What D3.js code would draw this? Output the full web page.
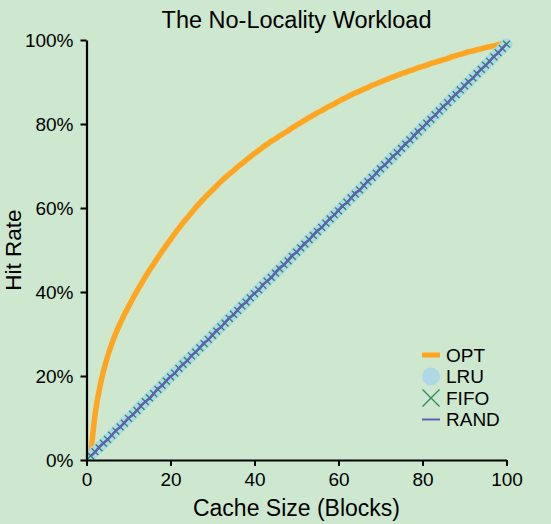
<!DOCTYPE html>
<html><head><meta charset="utf-8">
<script src="https://cdn.jsdelivr.net/npm/d3@7"></script>
<style>html,body{margin:0;padding:0;background:#cde8cf;} svg{display:block;}</style>
</head><body>
<svg id="chart" width="551" height="524"></svg>
<script>
// Hit rate (%) per cache size (blocks); cache size = index + 1
const optHit = [
  1.0, 10.5, 16.5, 21.0, 24.6, 27.6, 30.2, 32.5, 34.6, 36.5,
  38.4, 40.2, 41.9, 43.6, 45.2, 46.7, 48.2, 49.7, 51.1, 52.5,
  53.9, 55.2, 56.5, 57.7, 58.9, 60.1, 61.2, 62.3, 63.3, 64.3,
  65.3, 66.3, 67.2, 68.1, 68.9, 69.8, 70.6, 71.4, 72.2, 73.0,
  73.7, 74.5, 75.2, 75.9, 76.5, 77.2, 77.8, 78.4, 79.1, 79.7,
  80.3, 80.9, 81.5, 82.1, 82.7, 83.2, 83.8, 84.3, 84.8, 85.4,
  85.9, 86.4, 86.9, 87.4, 87.8, 88.3, 88.7, 89.2, 89.6, 90.0,
  90.4, 90.8, 91.2, 91.6, 92.0, 92.3, 92.7, 93.0, 93.4, 93.7,
  94.0, 94.4, 94.7, 95.0, 95.3, 95.6, 96.0, 96.3, 96.6, 96.9,
  97.2, 97.4, 97.7, 97.9, 98.2, 98.4, 98.6, 98.9, 99.1
];
const lruHit = [
  1.0, 2.0, 3.0, 3.9, 4.9, 5.9, 6.9, 7.9, 8.9, 9.9,
  10.8, 11.9, 12.9, 13.8, 14.9, 15.8, 16.8, 17.8, 18.8, 19.8,
  20.8, 21.8, 22.8, 23.8, 24.7, 25.8, 26.8, 27.7, 28.7, 29.7,
  30.7, 31.7, 32.7, 33.7, 34.7, 35.6, 36.6, 37.6, 38.6, 39.6,
  40.6, 41.6, 42.6, 43.5, 44.6, 45.5, 46.5, 47.5, 48.5, 49.5,
  50.5, 51.5, 52.5, 53.4, 54.5, 55.4, 56.4, 57.4, 58.4, 59.4,
  60.4, 61.4, 62.4, 63.4, 64.3, 65.3, 66.3, 67.3, 68.3, 69.3,
  70.3, 71.3, 72.2, 73.2, 74.2, 75.2, 76.2, 77.2, 78.2, 79.2,
  80.2, 81.1, 82.1, 83.1, 84.1, 85.1, 86.1, 87.1, 88.1, 89.1,
  90.0, 91.0, 92.0, 93.0, 94.0, 95.0, 96.0, 97.0, 98.0, 99.0
];
const fifoHit = [
  1.0, 2.0, 2.9, 4.0, 4.9, 5.9, 6.9, 7.9, 8.8, 9.9,
  10.9, 11.8, 12.8, 13.9, 14.8, 15.8, 16.8, 17.8, 18.8, 19.8,
  20.7, 21.8, 22.8, 23.7, 24.8, 25.7, 26.7, 27.7, 28.7, 29.7,
  30.7, 31.7, 32.6, 33.7, 34.7, 35.6, 36.7, 37.6, 38.6, 39.6,
  40.5, 41.6, 42.6, 43.5, 44.5, 45.5, 46.5, 47.4, 48.5, 49.5,
  50.5, 51.4, 52.5, 53.5, 54.4, 55.4, 56.4, 57.4, 58.4, 59.3,
  60.4, 61.4, 62.4, 63.3, 64.3, 65.4, 66.3, 67.3, 68.3, 69.3,
  70.3, 71.2, 72.3, 73.2, 74.2, 75.2, 76.2, 77.2, 78.1, 79.2,
  80.2, 81.1, 82.2, 83.1, 84.1, 85.1, 86.1, 87.0, 88.1, 89.1,
  90.0, 91.0, 92.0, 93.0, 94.0, 94.9, 96.0, 97.0, 98.0, 99.0
];
const randHit = [
  0.9, 1.8, 3.1, 4.0, 4.8, 5.9, 7.1, 7.8, 8.9, 10.0,
  10.7, 11.8, 13.0, 13.9, 14.6, 15.8, 17.0, 17.7, 18.9, 19.9,
  20.6, 21.9, 22.8, 23.6, 24.9, 25.7, 26.8, 27.9, 28.6, 29.8,
  30.9, 31.6, 32.8, 33.9, 34.5, 35.8, 36.9, 37.5, 38.8, 39.7,
  40.5, 41.8, 42.6, 43.4, 44.7, 45.8, 46.4, 47.6, 48.8, 49.4,
  50.6, 51.7, 52.4, 53.6, 54.7, 55.3, 56.5, 57.6, 58.3, 59.5,
  60.6, 61.2, 62.4, 63.6, 64.2, 65.3, 66.5, 67.2, 68.3, 69.5,
  70.2, 71.3, 72.4, 73.1, 74.3, 75.4, 76.1, 77.3, 78.4, 79.1,
  80.2, 81.3, 82.0, 83.2, 84.3, 85.0, 86.2, 87.2, 88.0, 89.1,
  90.2, 90.9, 92.1, 93.1, 93.9, 95.0, 96.1, 96.9, 98.0, 99.1
];
const xTicks = [0, 20, 40, 60, 80, 100];
const yTicks = [0, 20, 40, 60, 80, 100];
const seriesNames = ["OPT", "LRU", "FIFO", "RAND"];
const titleText = "The No-Locality Workload";
const xLabel = "Cache Size (Blocks)";
const yLabel = "Hit Rate";

const colors = {OPT: "#ffa51f", LRU: "#add8e6", FIFO: "#2e8b57", RAND: "#5e5eb4"};
const font = "'Liberation Sans', Arial, Helvetica, sans-serif";

const svg = d3.select("#chart");
svg.append("rect").attr("width", 551).attr("height", 524).attr("fill", "#cde8cf");

const x = d3.scaleLinear().domain([0, 100]).range([86.5, 506.5]);
const y = d3.scaleLinear().domain([0, 100]).range([460, 40]);

const toPts = arr => arr.map((v, i) => [i + 1, v]);
const smoothLine = d3.line().x(d => x(d[0])).y(d => y(d[1])).curve(d3.curveMonotoneX);
const line = d3.line().x(d => x(d[0])).y(d => y(d[1]));

const plot = svg.append("g");
// OPT
plot.append("path").datum(toPts(optHit)).attr("d", smoothLine)
  .attr("fill", "none").attr("stroke", colors.OPT).attr("stroke-width", 5.5);
// LRU circles
plot.append("g").selectAll("circle").data(toPts(lruHit)).join("circle")
  .attr("cx", d => x(d[0])).attr("cy", d => y(d[1])).attr("r", 6)
  .attr("fill", colors.LRU);
// FIFO line + x markers
plot.append("path").datum(toPts(fifoHit)).attr("d", line)
  .attr("fill", "none").attr("stroke", colors.FIFO).attr("stroke-width", 1.2);
const xm = 3.4;
plot.append("g").selectAll("path").data(toPts(fifoHit)).join("path")
  .attr("d", d => {
    const cx = x(d[0]), cy = y(d[1]);
    return `M${cx - xm},${cy - xm}L${cx + xm},${cy + xm}M${cx - xm},${cy + xm}L${cx + xm},${cy - xm}`;
  })
  .attr("stroke", colors.FIFO).attr("stroke-width", 1.4).attr("fill", "none");
// RAND
plot.append("path").datum(toPts(randHit)).attr("d", line)
  .attr("fill", "none").attr("stroke", colors.RAND).attr("stroke-width", 2.4)
  .attr("stroke-linejoin", "round");

// Axes
const xAxis = d3.axisBottom(x).tickValues(xTicks).tickSize(6).tickSizeOuter(0).tickPadding(7);
const yAxis = d3.axisLeft(y).tickValues(yTicks).tickSize(6).tickSizeOuter(0).tickPadding(7)
  .tickFormat(d => d + "%");
const gx = svg.append("g").attr("transform", "translate(0,460)").call(xAxis);
const gy = svg.append("g").attr("transform", "translate(86.5,0)").call(yAxis);
[gx, gy].forEach(g => {
  g.selectAll("path.domain").attr("stroke", "#000").attr("stroke-width", 2.2);
  g.selectAll(".tick line").attr("stroke", "#000").attr("stroke-width", 2);
  g.selectAll(".tick text").attr("fill", "#000").style("font-family", font).style("font-size", "19px");
});

// Title and labels
svg.append("text").attr("x", 296.5).attr("y", 28).attr("text-anchor", "middle")
  .style("font-family", font).style("font-size", "23.5px").attr("fill", "#000").text(titleText);
svg.append("text").attr("x", 296.5).attr("y", 516).attr("text-anchor", "middle")
  .style("font-family", font).style("font-size", "23px").attr("fill", "#000").text(xLabel);
svg.append("text").attr("transform", "translate(21,250) rotate(-90)").attr("text-anchor", "middle")
  .style("font-family", font).style("font-size", "22.5px").attr("fill", "#000").text(yLabel);

// Legend
const legY = [355, 376.5, 398, 419.5];
const lg = svg.append("g");
seriesNames.forEach((name, i) => {
  const cy = legY[i], cx = 431;
  if (name === "OPT") {
    lg.append("line").attr("x1", 422).attr("x2", 440).attr("y1", cy).attr("y2", cy)
      .attr("stroke", colors.OPT).attr("stroke-width", 5);
  } else if (name === "LRU") {
    lg.append("circle").attr("cx", cx).attr("cy", cy).attr("r", 9).attr("fill", colors.LRU);
  } else if (name === "FIFO") {
    const h = 8.5;
    lg.append("path").attr("d", `M${cx - h},${cy - h}L${cx + h},${cy + h}M${cx - h},${cy + h}L${cx + h},${cy - h}`)
      .attr("stroke", colors.FIFO).attr("stroke-width", 1.3).attr("fill", "none");
  } else {
    lg.append("line").attr("x1", 422).attr("x2", 440).attr("y1", cy).attr("y2", cy)
      .attr("stroke", colors.RAND).attr("stroke-width", 2);
  }
  lg.append("text").attr("x", 446).attr("y", cy).attr("dy", "0.35em")
    .style("font-family", font).style("font-size", "19px").attr("fill", "#000").text(name);
});
</script>
</body></html>
